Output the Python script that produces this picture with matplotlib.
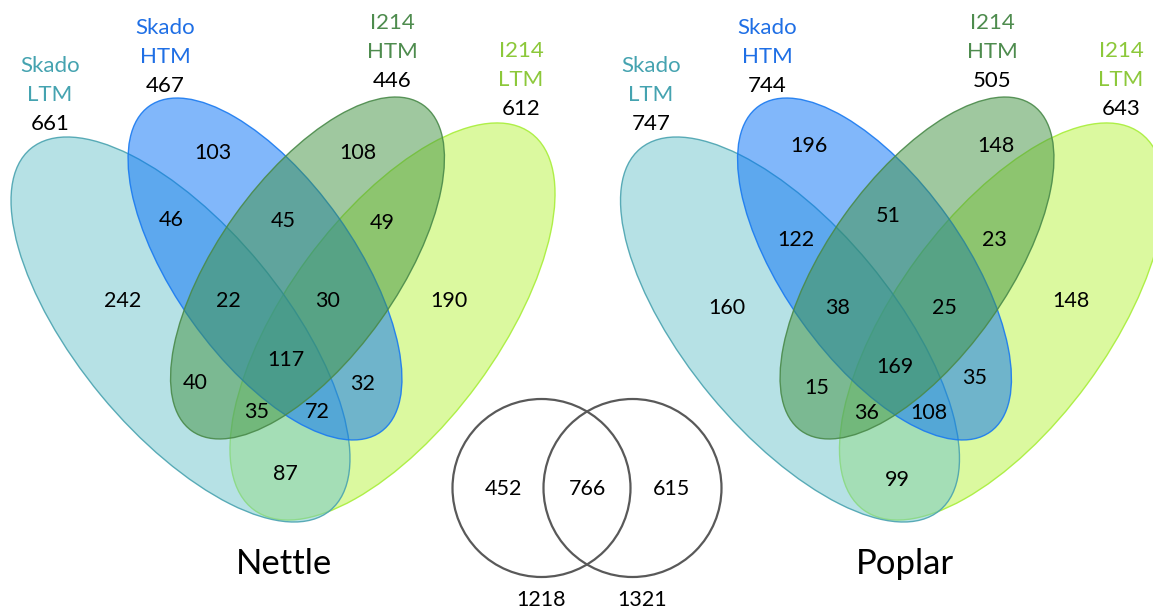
import matplotlib.pyplot as plt
from matplotlib.patches import Ellipse, Circle

plt.rcParams['font.family'] = ['Lato', 'DejaVu Sans']

# --- Data ---
set_names = ["Skado\nLTM", "Skado\nHTM", "I214\nHTM", "I214\nLTM"]
nettle_totals = [661, 467, 446, 612]
poplar_totals = [747, 744, 505, 643]

# region keys: A=Skado LTM, B=Skado HTM, C=I214 HTM, D=I214 LTM
region_keys = ["A", "B", "C", "D", "AB", "BC", "CD", "ABC", "BCD",
               "ABCD", "AC", "BD", "ACD", "ABD", "AD"]
nettle_counts = [242, 103, 108, 190, 46, 45, 49, 22, 30, 117, 40, 32, 35, 72, 87]
poplar_counts = [160, 196, 148, 148, 122, 51, 23, 38, 25, 169, 15, 35, 36, 108, 99]

species = ["Nettle", "Poplar"]
shared_counts = [452, 766, 615]   # nettle only, both, poplar only
species_totals = [1218, 1321]

# --- Styles / layout (pixel coords, y down) ---
fill_colors = ["#6fc5cd", "#0571f7", "#419341", "#b9f541"]
edge_colors = ["#4aa3b0", "#1a7af0", "#4a8a4a", "#a8ee3a"]
label_colors = ["#45a3b0", "#1f6fe5", "#4e8c4e", "#8cc83a"]

# ellipse shapes for the nettle layout: (cx, cy, width, height, angle)
ellipses = [
    (180.5, 329.5, 469.6, 206.4, 50.4),
    (265.0, 269.0, 399.6, 179.6, 54.6),
    (307.5, 268.0, 399.6, 179.6, -54.6),
    (392.5, 321.5, 467.6, 211.4, -53.7),
]
draw_order = [3, 0, 1, 2]
x_shift = [0, 609.5]

label_x = [[50, 165, 392, 521], [651, 767, 992, 1121]]
label_top = [65, 27, 22, 50]

nettle_pos = [(123, 300), (213, 152), (358, 152), (449, 300), (171, 219),
              (283, 220), (382, 222), (228, 300), (328, 300), (286, 359),
              (195, 382), (363, 383), (257, 411), (317, 411), (285, 473)]
poplar_pos = [(727, 307), (809, 145), (996, 145), (1071, 300), (796, 239),
              (888, 215), (994, 239), (838, 307), (944, 307), (895, 366),
              (817, 387), (975, 377), (867, 412), (929, 412), (897, 479)]

fig = plt.figure(figsize=(11.53, 6.10), dpi=100)
ax = fig.add_axes([0, 0, 1, 1])
ax.set_xlim(0, 1153)
ax.set_ylim(610, 0)
ax.axis("off")

for k, (totals, counts, pos) in enumerate(
        [(nettle_totals, nettle_counts, nettle_pos),
         (poplar_totals, poplar_counts, poplar_pos)]):
    dx = x_shift[k]
    for i in draw_order:
        cx, cy, w, h, ang = ellipses[i]
        ax.add_patch(Ellipse((cx + dx, cy), w, h, angle=ang,
                             facecolor=fill_colors[i], alpha=0.5, lw=0))
        ax.add_patch(Ellipse((cx + dx, cy), w, h, angle=ang,
                             facecolor="none", edgecolor=edge_colors[i],
                             lw=1.0, alpha=0.9))
    for i in range(4):
        x = label_x[k][i]
        y0 = label_top[i]
        name1, name2 = set_names[i].split("\n")
        ax.text(x, y0 + 1, name1, color=label_colors[i],
                fontsize=16, ha="center", va="center")
        ax.text(x, y0 + 30, name2, color=label_colors[i],
                fontsize=16, ha="center", va="center")
        ax.text(x, y0 + 59, str(totals[i]), color="black",
                fontsize=16, ha="center", va="center")
    for (x, y), c in zip(pos, counts):
        ax.text(x, y + 1, str(c), fontsize=15.5, ha="center", va="center")

ax.text(284, 564, species[0], fontsize=25, ha="center", va="center")
ax.text(905, 564, species[1], fontsize=25, ha="center", va="center")

# two-set Venn in the middle
circ_x = [541.5, 632.5]
for cx in circ_x:
    ax.add_patch(Circle((cx, 488), 89, facecolor="none",
                        edgecolor="#595959", lw=1.6))
for x, c in zip([503, 587, 672], shared_counts):
    ax.text(x, 489, str(c), fontsize=15.5, ha="center", va="center")
for x, c in zip([541, 642], species_totals):
    ax.text(x, 600, str(c), fontsize=15.5, ha="center", va="center")

fig.savefig("out.png", dpi=100)
